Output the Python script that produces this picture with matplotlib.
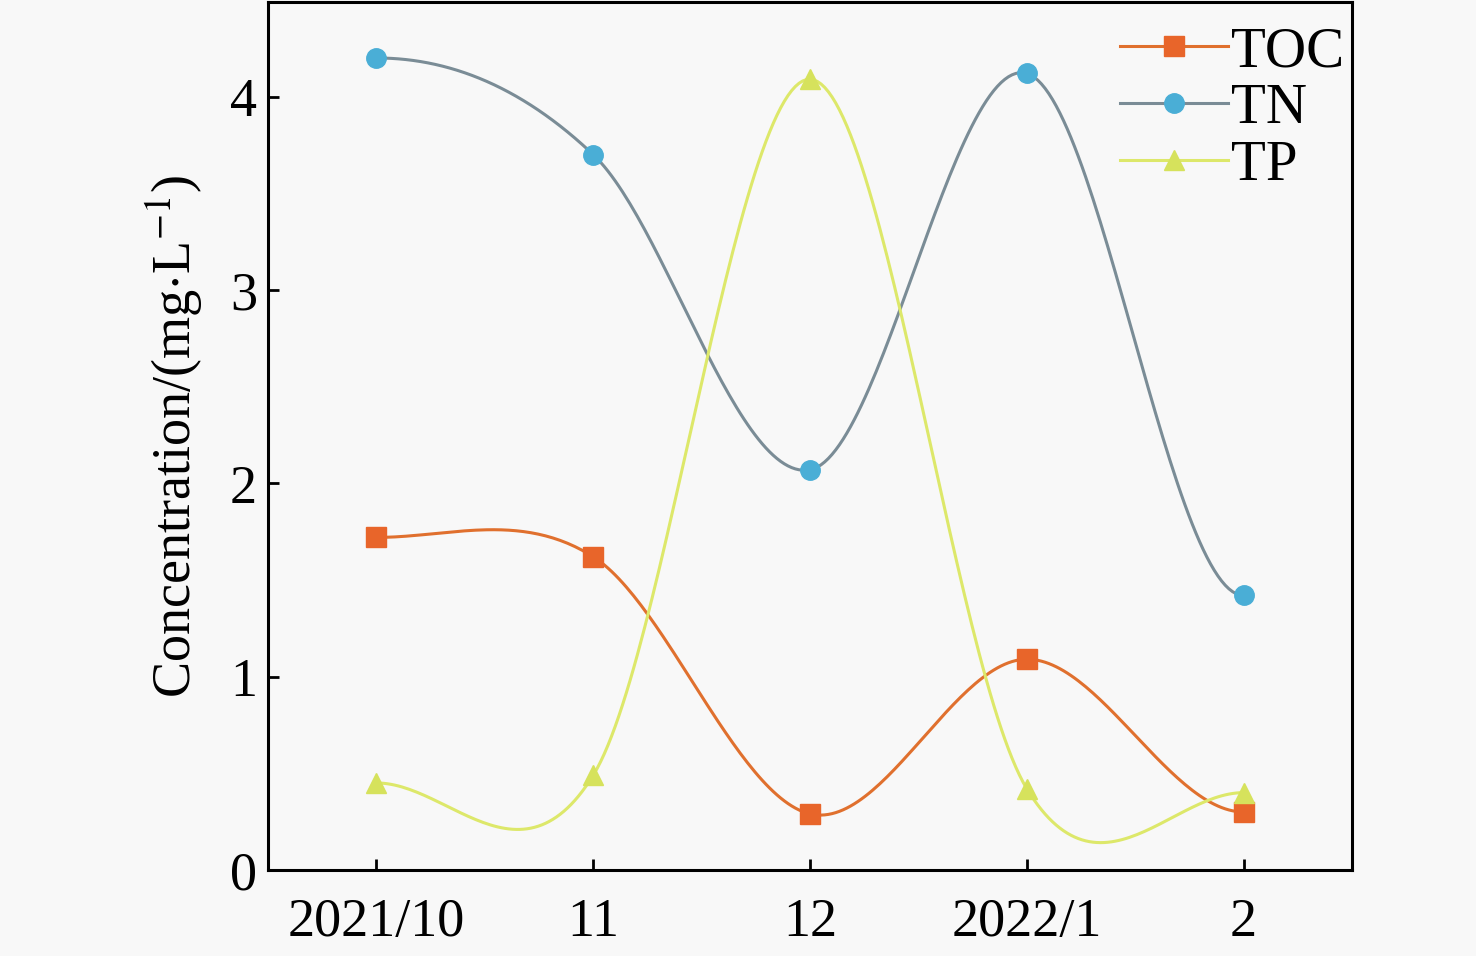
import numpy as np
import matplotlib
matplotlib.use("Agg")
import matplotlib.pyplot as plt

months = ["2021/10", "11", "12", "2022/1", "2"]
toc = [1.72, 1.62, 0.29, 1.09, 0.30]
tn = [4.20, 3.70, 2.07, 4.12, 1.42]
tp = [0.45, 0.49, 4.09, 0.42, 0.40]


def smooth_line(x, y, n=60):
    # Catmull-Rom style cubic through the points, only for the connecting curve
    x = np.asarray(x, float)
    y = np.asarray(y, float)
    k = len(x)
    m = np.empty(k)
    m[1:-1] = (y[2:] - y[:-2]) / 2
    m[0] = 0.0
    m[-1] = 0.0
    xs_all, ys_all = [], []
    for i in range(k - 1):
        t = np.linspace(0, 1, n)
        h00 = 2 * t**3 - 3 * t**2 + 1
        h10 = t**3 - 2 * t**2 + t
        h01 = -2 * t**3 + 3 * t**2
        h11 = t**3 - t**2
        xs_all.append(x[i] + t * (x[i + 1] - x[i]))
        ys_all.append(h00 * y[i] + h10 * m[i] + h01 * y[i + 1] + h11 * m[i + 1])
    return np.concatenate(xs_all), np.concatenate(ys_all)


plt.rcParams['font.family'] = ['Liberation Serif', 'DejaVu Serif']
plt.rcParams['mathtext.fontset'] = 'stix'

fig = plt.figure(figsize=(14.76, 9.56), dpi=100)
fig.patch.set_facecolor('#f8f8f8')
ax = fig.add_axes([0.1816, 0.09, 0.7344, 0.908])
ax.set_facecolor('#f8f8f8')

x = np.arange(len(months))
series = [
    ("TOC", toc, '#e0702e', '#e8652a', 's'),
    ("TN", tn, '#7a8c96', '#4aaed6', 'o'),
    ("TP", tp, '#dde86a', '#d6e25c', '^'),
]
for name, vals, lc, mc, mk in series:
    xs, ys = smooth_line(x, vals)
    ax.plot(xs, ys, color=lc, lw=2.2, zorder=2)
    ax.plot(x, vals, linestyle='none', marker=mk, color=mc, ms=14, zorder=3)
    ax.plot([], [], color=lc, lw=2.2, marker=mk, mfc=mc, mec=mc, ms=14, label=name)

ax.set_xlim(-0.5, 4.5)
ax.set_ylim(0, 4.49)
ax.set_xticks(x)
ax.set_xticklabels(months)
ax.set_yticks([0, 1, 2, 3, 4])
ax.tick_params(direction='in', length=8, width=2, labelsize=39)
ax.tick_params(axis='x', pad=20)
ax.tick_params(axis='y', pad=8)
for s in ax.spines.values():
    s.set_linewidth(2.2)
ax.set_ylabel('Concentration/(mg$\\cdot$L$^{-1}$)', fontsize=39, labelpad=18)

ax.legend(loc='upper right', bbox_to_anchor=(1.014, 0.998), frameon=False, fontsize=41,
          handlelength=1.9, handletextpad=0.05, labelspacing=0.08, borderaxespad=0.0)

fig.savefig('out.png', dpi=100, facecolor=fig.get_facecolor())
